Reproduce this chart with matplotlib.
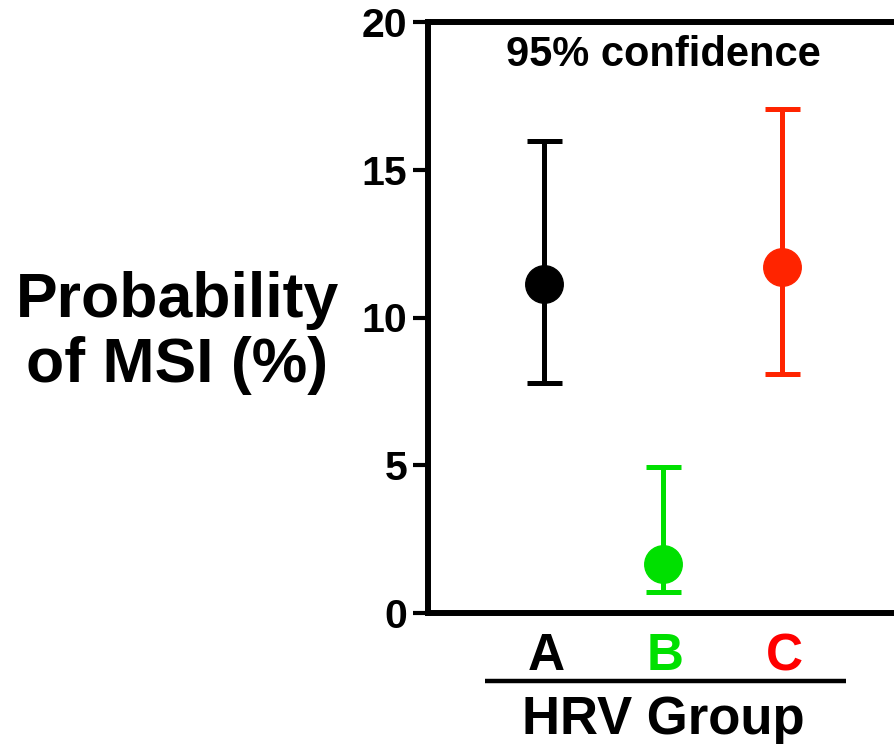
import numpy as np
import matplotlib
matplotlib.use("Agg")
import matplotlib.pyplot as plt

# MSI probability per HRV group, with 95% confidence limits
groups = ["A", "B", "C"]
prob = [11.13, 1.66, 11.71]
ci_low = [7.78, 0.71, 8.09]
ci_high = [15.97, 4.94, 17.06]
marker_colors = ["#000000", "#00e000", "#ff2400"]
label_colors = ["#000000", "#00e000", "#ff0000"]
yticks = [0, 5, 10, 15, 20]

plt.rcParams['font.family'] = ['Liberation Sans', 'DejaVu Sans']
plt.rcParams['font.weight'] = 'bold'

W, H = 894, 744
fig = plt.figure(figsize=(W/100, H/100), dpi=100)
# axes box in pixels: left spine 428, bottom 613, top 22, runs off the right edge
ax = fig.add_axes([428/W, 1-613/H, (W-428)/W, (613-22)/H])

xpos = np.arange(1, len(groups)+1)
for i in range(len(groups)):
    lo = prob[i] - ci_low[i]
    hi = ci_high[i] - prob[i]
    ax.errorbar(xpos[i], prob[i], yerr=[[lo], [hi]], fmt='o',
                color=marker_colors[i], ms=27, elinewidth=3.6,
                capsize=12.6, capthick=3.6, zorder=3)

ax.set_xlim(0.025, 3.94)
ax.set_ylim(0, 20)
ax.set_yticks(yticks)
ax.set_yticklabels([str(t) for t in yticks], fontsize=29.5, fontweight='bold')
ax.set_xticks([])

for s in ['left', 'top', 'bottom']:
    ax.spines[s].set_linewidth(4.3)
ax.spines['right'].set_visible(False)
ax.tick_params(axis='y', direction='out', length=11, width=3, pad=4)

# group letters below the axis
for i in range(len(groups)):
    ax.text(xpos[i] + 0.02, -0.0965, groups[i], transform=ax.get_xaxis_transform(),
            ha='center', va='baseline', fontsize=37, fontweight='bold',
            color=label_colors[i], clip_on=False)

# bar under the letters, then the group title
ax.plot([0.5, 3.54], [-0.115, -0.115], color='black', lw=3.2,
        transform=ax.get_xaxis_transform(), clip_on=False, solid_capstyle='butt')
ax.text(2.0, -0.204, "HRV Group", transform=ax.get_xaxis_transform(),
        ha='center', va='baseline', fontsize=38, fontweight='bold', clip_on=False)

ax.text(2.0, 0.925, "95% confidence", transform=ax.get_xaxis_transform(),
        ha='center', va='baseline', fontsize=30, fontweight='bold')

fig.text(177/W, 1-333/H, "Probability\nof MSI (%)", ha='center', va='center',
         fontsize=45, fontweight='bold', linespacing=1.13)

fig.savefig("out.png", dpi=100)
